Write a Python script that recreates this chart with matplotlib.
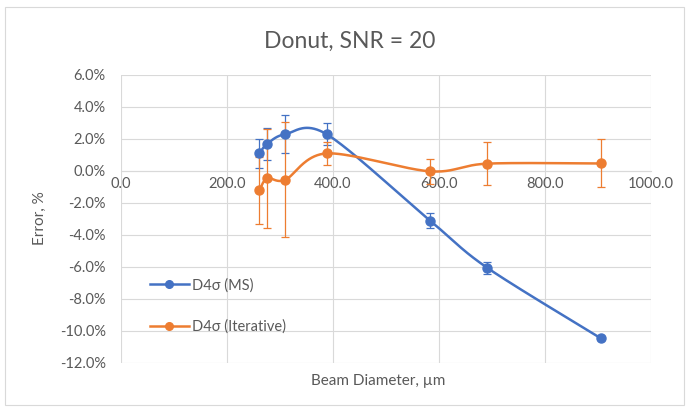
import matplotlib
matplotlib.use("Agg")
import matplotlib.pyplot as plt
import numpy as np
from matplotlib.patches import Rectangle

plt.rcParams["font.family"] = ["Lato", "DejaVu Sans"]

# beam diameters (um) and error (%)
diam_ms = [261, 276, 310, 388, 583, 691, 905]
err_ms = [1.1, 1.7, 2.3, 2.3, -3.1, -6.05, -10.45]
bar_ms = [0.9, 1.0, 1.2, 0.7, 0.45, 0.37, 0.1]

diam_it = [261, 276, 310, 388, 583, 691, 905]
err_it = [-1.2, -0.45, -0.55, 1.1, -0.02, 0.46, 0.47]
bar_it = [2.1, 3.1, 3.6, 0.7, 0.8, 1.33, 1.5]

x_ticks = [0, 200, 400, 600, 800, 1000]
y_ticks = [-12, -10, -8, -6, -4, -2, 0, 2, 4, 6]

BLUE = "#4472C4"
ORANGE = "#ED7D31"
GRAY = "#595959"
GRID = "#D9D9D9"


def smooth(ax, x, y, n=40, k=6.4):
    """Excel-like smoothed line: cardinal bezier in screen space."""
    pts = ax.transData.transform(np.column_stack([x, y]))
    p = np.vstack([pts[0], pts, pts[-1]])
    out = []
    t = np.linspace(0, 1, n)[:, None]
    for i in range(1, len(p) - 2):
        p0, p1, p2, p3 = p[i - 1], p[i], p[i + 1], p[i + 2]
        c1 = p1 + (p2 - p0) / k
        c2 = p2 - (p3 - p1) / k
        seg = ((1 - t) ** 3 * p1 + 3 * (1 - t) ** 2 * t * c1
               + 3 * (1 - t) * t ** 2 * c2 + t ** 3 * p2)
        out.append(seg)
    curve = ax.transData.inverted().transform(np.vstack(out))
    return curve[:, 0], curve[:, 1]


fig = plt.figure(figsize=(6.87, 4.09), dpi=100)
fig.patches.append(Rectangle((5 / 687, 4 / 409), 679 / 687, 398 / 409,
                             transform=fig.transFigure, fill=False,
                             edgecolor=GRID, lw=0.8))
ax = fig.add_axes([121 / 687, 1 - 363 / 409, 530 / 687, 288 / 409])
ax.set_xlim(0, 1000)
ax.set_ylim(-12, 6)
ax.set_xticks(x_ticks)
ax.set_yticks(y_ticks)
ax.set_xticklabels([f"{v:.1f}" for v in x_ticks])
ax.set_yticklabels([f"{v:.1f}%" for v in y_ticks])
ax.grid(True, color=GRID, lw=0.8)
ax.set_axisbelow(True)
for side in ("top", "right", "left"):
    ax.spines[side].set_visible(False)
ax.spines["bottom"].set_position(("data", 0))
ax.spines["bottom"].set_color(GRID)
ax.tick_params(length=0, colors=GRAY, labelsize=10.5)
ax.tick_params(axis="x", pad=4)
ax.tick_params(axis="y", pad=11)

for x, y, e, c, lab in ((diam_ms, err_ms, bar_ms, BLUE, "D4σ (MS)"),
                        (diam_it, err_it, bar_it, ORANGE, "D4σ (Iterative)")):
    sx, sy = smooth(ax, x, y)
    ax.plot(sx, sy, color=c, lw=1.8, zorder=3)
    ax.errorbar(x, y, yerr=e, fmt="none", ecolor=c, elinewidth=0.9,
                capsize=3, capthick=0.9, zorder=3)
    ax.plot(x, y, "o", color=c, ms=6.5, zorder=4)
    ax.plot([], [], "-o", color=c, lw=1.8, ms=5.5, label=lab)

ax.legend(loc="upper left", bbox_to_anchor=(0.035, 0.33), frameon=False,
          fontsize=10.5, labelcolor=GRAY, handlelength=2.7, labelspacing=1.85,
          handletextpad=0.2, borderpad=0.2)

fig.text(350 / 687, 1 - 41 / 409, "Donut, SNR = 20", ha="center",
         va="center", fontsize=16.5, color=GRAY)
fig.text(378 / 687, 1 - 381 / 409, "Beam Diameter, µm", ha="center",
         va="center", fontsize=11, color=GRAY)
fig.text(40 / 687, 1 - 218 / 409, "Error, %", ha="center", va="center",
         rotation=90, fontsize=11, color=GRAY)

fig.savefig("out.png", dpi=100)
